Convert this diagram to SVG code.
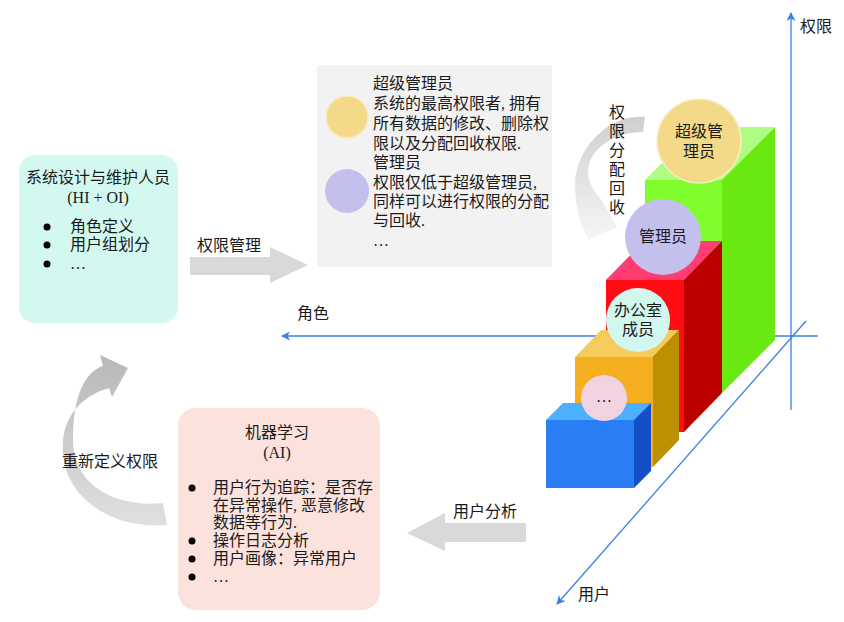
<svg xmlns="http://www.w3.org/2000/svg" width="844" height="622" viewBox="0 0 844 622">
<defs>
<style>
.t{font-family:"Liberation Serif","Noto Sans CJK SC",serif;font-size:16px;fill:#1a1a1a}
.c{text-anchor:middle}
.ax{stroke:#3b7fe6;stroke-width:1.3;fill:none}
.dot{fill:#000}
</style>
<marker id="ah" viewBox="0 0 10 10" refX="9" refY="5" markerWidth="9" markerHeight="9" orient="auto" markerUnits="userSpaceOnUse">
<path d="M0,0 L10,5 L0,10 L3,5 Z" fill="#3b7fe6"/>
</marker>
<linearGradient id="g1" x1="0" y1="0" x2="0" y2="1">
<stop offset="0" stop-color="#b8b8b8"/>
<stop offset="1" stop-color="#e0e0e0"/>
</linearGradient>
<linearGradient id="g2" x1="0" y1="0" x2="0" y2="1">
<stop offset="0" stop-color="#cfcfcf"/>
<stop offset="1" stop-color="#f6f6f6"/>
</linearGradient>
</defs>
<rect width="844" height="622" fill="#fff"/>

<g id="connectors">
<line class="ax" x1="791" y1="410" x2="791" y2="13" marker-end="url(#ah)"/>
<line class="ax" x1="818" y1="336" x2="282" y2="336" marker-end="url(#ah)"/>
<line class="ax" x1="806" y1="321" x2="557" y2="604" marker-end="url(#ah)"/>
<polygon points="190,257 270,257 270,247 308,265 270,283 270,275 190,275" fill="#d9d9d9"/>
<polygon points="526,523 445,523 445,513 407,533 445,551 445,542 526,542" fill="#d9d9d9"/>
<path d="M167,525 C110,530 58,495 63,440 C66,412 85,395 109,388 L112,397 L128,368 L100,355 L103,366 C85,372 73,395 73,440 C73,485 115,508 163,503 Z" fill="url(#g1)"/>
<path d="M645,117 C610,113 575,148 575,185 C575,210 582,228 589,240 L617,227 L600,198 C592,190 588,180 588,170 C590,148 615,132 643,132 Z" fill="url(#g2)"/>
</g>

<g id="axis-labels">
<text class="t" x="800" y="32" font-size="15">权限</text>
<text class="t" x="297" y="319" font-size="15">角色</text>
<text class="t" x="578" y="600" font-size="15">用户</text>
<text class="t" x="197" y="251" font-size="15.5">权限管理</text>
<text class="t" x="453" y="517" font-size="15.5">用户分析</text>
<text class="t" x="62" y="467" font-size="15.5">重新定义权限</text>
<g class="t c">
<text x="617" y="118">权</text>
<text x="617" y="137">限</text>
<text x="617" y="156">分</text>
<text x="617" y="175">配</text>
<text x="617" y="194">回</text>
<text x="617" y="213">收</text>
</g>
</g>

<g id="bar-green">
<rect x="645" y="180" width="77" height="213" fill="#80fc2e"/>
<polygon points="645,180 698,127 775,127 722,180" fill="#b0fc82"/>
<polygon points="722,180 775,127 775,340 722,393" fill="#6ae812"/>
</g>
<g id="bar-red">
<rect x="606" y="280" width="78" height="152" fill="#ff0c14"/>
<polygon points="606,280 644,241 722,241 684,280" fill="#ff3d72"/>
<polygon points="684,280 722,241 722,393 684,432" fill="#bb0000"/>
</g>
<g id="bar-orange">
<rect x="575" y="357" width="78" height="110" fill="#f5ae1f"/>
<polygon points="575,357 601,330 679,330 653,357" fill="#f5cb5c"/>
<polygon points="653,357 679,330 679,440 653,467" fill="#bc9000"/>
</g>
<g id="bar-blue">
<rect x="546" y="420" width="88" height="68" fill="#2b7ff5"/>
<polygon points="546,420 563,403 651,403 634,420" fill="#4cb0ff"/>
<polygon points="634,420 651,403 651,471 634,488" fill="#144fc8"/>
</g>
<g id="node-super">
<circle cx="699" cy="141" r="42" fill="#f4da88" stroke="#f9ecc4" stroke-width="1.5"/>
<text class="t c" x="699" y="137">超级管</text>
<text class="t c" x="699" y="157">理员</text>
</g>
<g id="node-admin">
<circle cx="663" cy="237" r="38" fill="#c4c0ee"/>
<text class="t c" x="663" y="242">管理员</text>
</g>
<g id="node-office">
<circle cx="638" cy="320" r="32" fill="#d2f7ee"/>
<text class="t c" x="638" y="316">办公室</text>
<text class="t c" x="638" y="335">成员</text>
</g>
<g id="node-more">
<circle cx="604" cy="398" r="23" fill="#f0d2e0"/>
<text class="t c" x="604" y="402" font-size="15">…</text>
</g>

<g id="node-legend">
<rect x="317" y="65" width="235" height="202" fill="#f2f2f2"/>
<circle cx="347" cy="117" r="21" fill="#f4da88" stroke="#f9ecc4" stroke-width="1.5"/>
<circle cx="347" cy="191" r="22" fill="#c4c0ee"/>
<text class="t" x="373" y="89">超级管理员</text>
<text class="t" x="373" y="109">系统的最高权限者, 拥有</text>
<text class="t" x="373" y="129">所有数据的修改、删除权</text>
<text class="t" x="373" y="149">限以及分配回收权限.</text>
<text class="t" x="373" y="168">管理员</text>
<text class="t" x="373" y="188">权限仅低于超级管理员,</text>
<text class="t" x="373" y="207">同样可以进行权限的分配</text>
<text class="t" x="373" y="226">与回收.</text>
<text class="t" x="373" y="246">…</text>
</g>

<g id="node-design">
<rect x="19" y="155" width="159" height="168" rx="16" fill="#d2f8f0"/>
<text class="t c" x="98" y="183">系统设计与维护人员</text>
<text class="t c" x="98" y="203">(HI + OI)</text>
<circle class="dot" cx="47" cy="227" r="3.5"/>
<circle class="dot" cx="47" cy="245" r="3.5"/>
<circle class="dot" cx="47" cy="264" r="3.5"/>
<text class="t" x="70" y="232">角色定义</text>
<text class="t" x="70" y="250">用户组划分</text>
<text class="t" x="70" y="269">…</text>
</g>

<g id="node-ml">
<rect x="178" y="408" width="202" height="202" rx="18" fill="#fce2dc"/>
<text class="t c" x="277" y="438">机器学习</text>
<text class="t c" x="277" y="458">(AI)</text>
<circle class="dot" cx="192" cy="488" r="3.5"/>
<circle class="dot" cx="192" cy="541" r="3.5"/>
<circle class="dot" cx="192" cy="559" r="3.5"/>
<circle class="dot" cx="192" cy="577" r="3.5"/>
<text class="t" x="213" y="493">用户行为追踪：是否存</text>
<text class="t" x="213" y="511">在异常操作, 恶意修改</text>
<text class="t" x="213" y="528">数据等行为.</text>
<text class="t" x="213" y="546">操作日志分析</text>
<text class="t" x="213" y="564">用户画像：异常用户</text>
<text class="t" x="213" y="582">…</text>
</g>
</svg>
